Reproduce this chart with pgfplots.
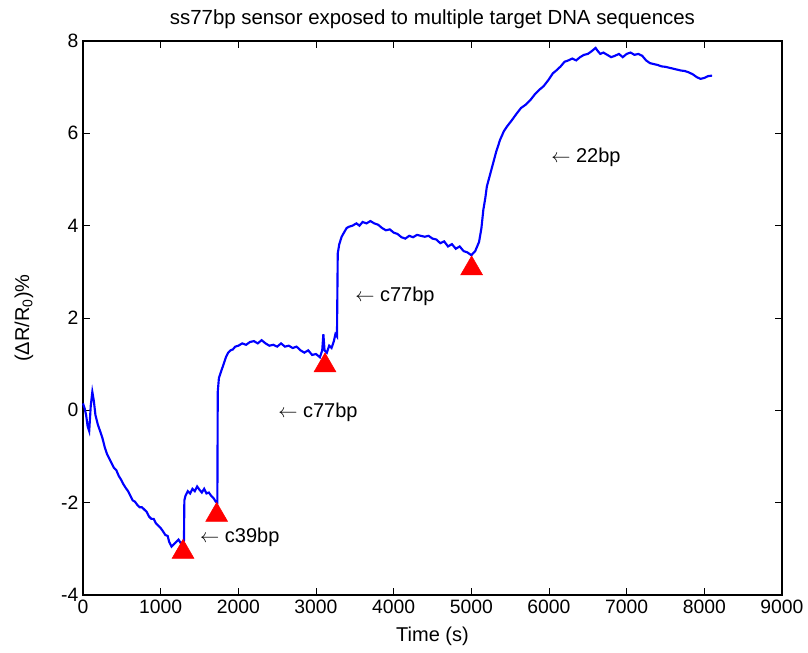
\documentclass[border=0pt]{standalone}
\usepackage{fontspec}
\setmainfont{Liberation Sans}
\usepackage{pgfplots}
\pgfplotsset{compat=1.18}
\usetikzlibrary{calc}
\begin{document}
\begin{tikzpicture}
\begin{axis}[
  scale only axis,
  width=524.25pt, height=415.5pt,
  xmin=0, xmax=9000, ymin=-4, ymax=8,
  xtick={0,1000,...,9000}, ytick={-4,-2,...,8},
  tick align=inside, tick pos=both,
  major tick length=5pt,
  axis line style={line width=0.8pt},
  every tick/.style={black, line width=0.6pt},
  scaled x ticks=false,
  /pgf/number format/assume math mode=true,
  /pgf/number format/1000 sep={},
  font=\fontsize{15}{18}\selectfont,
  ticklabel style={font=\fontsize{14.5}{17}\selectfont},
  title={ss77bp sensor exposed to multiple target DNA sequences},
  title style={font=\fontsize{15.3}{18}\selectfont, yshift=0pt},
  xlabel={Time (s)},
  xlabel style={yshift=-3pt},
  ylabel={(ΔR/R\textsubscript{0})\%},
  ylabel style={at={(axis description cs:-0.0844,0.5)}, anchor=center},
  clip=false,
]
\addplot[blue, line width=1.6pt] coordinates {
(0,0.15)(20,0.05)(40,-0.1)(60,-0.35)(80,-0.45)(100,0.1)(120,0.4)(140,0.2)(160,-0.1)(190,-0.3)
(220,-0.45)(250,-0.6)(280,-0.8)(310,-0.95)(340,-1.05)(370,-1.15)(400,-1.25)(430,-1.3)(460,-1.42)(490,-1.5)
(520,-1.6)(550,-1.68)(580,-1.75)(610,-1.85)(640,-1.95)(670,-1.98)(700,-2.05)(730,-2.1)(760,-2.1)(790,-2.15)
(820,-2.2)(850,-2.3)(880,-2.35)(910,-2.35)(940,-2.45)(970,-2.5)(1000,-2.55)(1030,-2.62)(1060,-2.7)(1090,-2.72)
(1110,-2.85)(1140,-2.95)(1170,-2.9)(1200,-2.85)(1230,-2.8)(1260,-2.88)(1290,-2.85)(1300,-2.82)
(1305,-1.95)(1320,-1.85)(1350,-1.75)(1380,-1.8)(1410,-1.7)(1440,-1.75)(1470,-1.65)(1500,-1.72)(1530,-1.78)
(1560,-1.7)(1590,-1.8)(1620,-1.78)(1650,-1.85)(1680,-1.9)(1710,-1.98)(1730,-2.0)
(1735,0.4)(1750,0.7)(1780,0.85)(1810,1.0)(1840,1.15)(1870,1.25)(1900,1.3)(1930,1.32)(1960,1.38)(2000,1.4)
(2050,1.45)(2100,1.42)(2150,1.48)(2200,1.5)(2250,1.45)(2300,1.52)(2350,1.45)(2400,1.4)(2450,1.42)(2500,1.38)
(2550,1.45)(2600,1.38)(2650,1.4)(2700,1.35)(2750,1.38)(2800,1.3)(2850,1.25)(2900,1.3)(2950,1.2)(3000,1.22)
(3050,1.15)(3080,1.3)(3095,1.65)(3110,1.3)(3140,1.25)(3170,1.4)(3200,1.35)(3230,1.5)(3250,1.65)(3270,1.6)
(3280,3.4)(3300,3.6)(3330,3.76)(3360,3.85)(3395,3.95)(3430,3.98)(3470,4.0)(3520,4.05)(3560,4.0)(3600,4.08)
(3650,4.05)(3700,4.1)(3750,4.05)(3800,4.02)(3850,3.95)(3900,3.9)(3950,3.92)(4000,3.85)(4050,3.82)(4100,3.75)
(4150,3.72)(4200,3.78)(4250,3.75)(4300,3.8)(4350,3.78)(4400,3.76)(4450,3.78)(4500,3.72)(4550,3.7)(4600,3.62)
(4650,3.66)(4700,3.55)(4750,3.6)(4800,3.5)(4850,3.55)(4900,3.45)(4950,3.42)(5000,3.36)(5050,3.45)(5100,3.65)
(5130,3.95)(5155,4.35)(5180,4.6)(5200,4.85)(5240,5.1)(5280,5.35)(5320,5.6)(5370,5.86)(5420,6.05)(5460,6.15)
(5520,6.28)(5580,6.42)(5640,6.55)(5700,6.62)(5760,6.72)(5820,6.85)(5880,6.95)(5930,7.02)(5990,7.15)(6050,7.3)
(6100,7.37)(6150,7.45)(6200,7.55)(6250,7.58)(6300,7.62)(6350,7.58)(6400,7.65)(6450,7.7)(6500,7.72)(6550,7.78)
(6600,7.85)(6620,7.8)(6660,7.72)(6700,7.75)(6750,7.7)(6800,7.65)(6850,7.68)(6900,7.72)(6950,7.65)(7000,7.72)
(7050,7.75)(7100,7.7)(7150,7.72)(7200,7.68)(7250,7.58)(7300,7.52)(7350,7.5)(7400,7.48)(7450,7.45)(7500,7.44)
(7550,7.42)(7600,7.4)(7650,7.38)(7700,7.36)(7750,7.35)(7800,7.32)(7850,7.28)(7900,7.22)(7950,7.18)(8000,7.2)
(8050,7.24)(8100,7.25)
};
\addplot[only marks, mark=triangle*, mark size=9.5pt, color=red] coordinates {
(1288,-3.07)(1721,-2.27)(3116,0.97)(5004,3.07)
};
\node[anchor=west, inner sep=0pt] at (axis cs:1506,-2.74) {$\leftarrow$ c39bp};
\node[anchor=west, inner sep=0pt] at (axis cs:2511,-0.04) {$\leftarrow$ c77bp};
\node[anchor=west, inner sep=0pt] at (axis cs:3502,2.48) {$\leftarrow$ c77bp};
\node[anchor=west, inner sep=0pt] at (axis cs:6026,5.47) {$\leftarrow$ 22bp};
\end{axis}
\path ($(current axis.south west)+(-62.25pt,-42.75pt)$) rectangle ($(current axis.north east)+(19.5pt,30.75pt)$);
\end{tikzpicture}
\end{document}
